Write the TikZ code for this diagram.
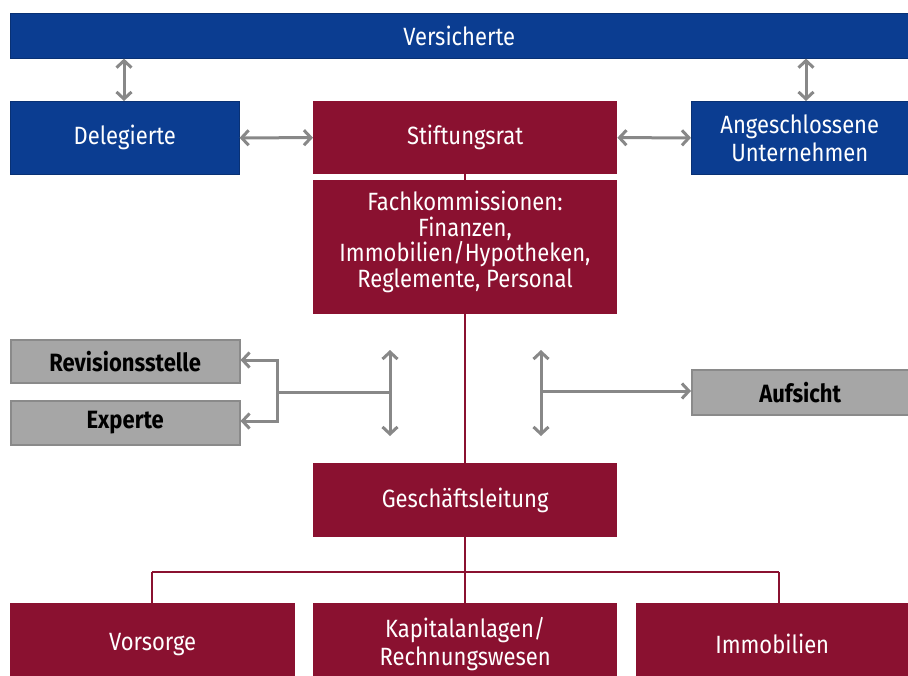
\documentclass[tikz,border=0pt]{standalone}
\usepackage{fontspec}
\setmainfont{Fira Sans}[FakeStretch=0.88]
\usetikzlibrary{arrows.meta}
\definecolor{vblue}{HTML}{0B3D91}
\definecolor{vred}{HTML}{8A1130}
\definecolor{gfill}{HTML}{A6A6A6}
\definecolor{gline}{HTML}{8A8A8A}
\definecolor{garrow}{HTML}{888888}
\tikzset{
  bluebox/.style={draw=vblue!80!black, line width=0.6pt, fill=vblue, text=white, inner sep=0pt, align=center, font=\fontsize{25}{28}\selectfont},
  redbox/.style={fill=vred, text=white, inner sep=0pt, align=center, font=\fontsize{25}{28}\selectfont},
  whitetext/.style={text=white, inner sep=0pt, align=center, font=\fontsize{25}{25.7}\selectfont},
  greybox/.style={draw=gline, line width=1.5pt, fill=gfill, text=black, inner sep=0pt, align=center, font=\fontsize{25}{28}\selectfont\bfseries},
  garr/.style={draw=garrow, line width=3pt, {Straight Barb[length=7pt,width=15pt,line width=3pt]}-{Straight Barb[length=7pt,width=15pt,line width=3pt]}},
  garrend/.style={draw=garrow, line width=3pt, -{Straight Barb[length=7pt,width=15pt,line width=3pt]}},
  gline/.style={draw=garrow, line width=3pt},
  rline/.style={draw=vred, line width=2.5pt},
}
\begin{document}
\begin{tikzpicture}[x=1pt,y=-1pt]
\useasboundingbox (0,0) rectangle (908,675);
% boxes
\node[bluebox, minimum width=898pt, minimum height=45pt, anchor=north west] (vers) at (10,13) {Versicherte};
\node[bluebox, minimum width=229pt, minimum height=73pt, anchor=north west] (del) at (10,101) {Delegierte};
\node[redbox, minimum width=304pt, minimum height=73pt, anchor=north west] (str) at (313,101) {Stiftungsrat};
\node[bluebox, minimum width=217pt, minimum height=73pt, anchor=north west] (ang) at (691,101) {Angeschlossene\\Unternehmen};
\node[redbox, minimum width=304pt, minimum height=134pt, anchor=north west] (fach) at (313,180) {};
\node[whitetext] (fachtxt) at (465,242) {Fachkommissionen:\\Finanzen,\\Immobilien/Hypotheken,\\Reglemente, Personal};
\node[greybox, minimum width=229pt, minimum height=43pt, anchor=north west] (rev) at (10,339) {Revisionsstelle};
\node[greybox, minimum width=229pt, minimum height=44pt, anchor=north west] (exp) at (10,400) {Experte};
\node[greybox, minimum width=217pt, minimum height=45pt, anchor=north west] (auf) at (691,369) {Aufsicht};
\node[redbox, minimum width=304pt, minimum height=74pt, anchor=north west] (gl) at (313,463) {Geschäftsleitung};
\node[redbox, minimum width=285pt, minimum height=82pt, anchor=north west] (vor) at (10,603) {Vorsorge};
\node[redbox, minimum width=304pt, minimum height=82pt, anchor=north west] (kap) at (313,603) {Kapitalanlagen/\\Rechnungswesen};
\node[redbox, minimum width=272pt, minimum height=82pt, anchor=north west] (imm) at (636,603) {Immobilien};
% coordinates
\coordinate (la1) at (390,350);
\coordinate (la2) at (390,436);
\coordinate (lj) at (390,392);
\coordinate (lk) at (277,392);
\coordinate (lt) at (277,360);
\coordinate (lb) at (277,421);
\coordinate (ra1) at (541,350);
\coordinate (ra2) at (541,436);
\coordinate (rj) at (541,391);
\coordinate (busl) at (152,572);
\coordinate (busr) at (779,572);
% red lines
\draw[rline] (str.south) -- (fach.north);
\draw[rline] (fach.south) -- (gl.north);
\draw[rline] (gl.south) -- (kap.north);
\draw[rline] (busl) -- (busr);
\draw[rline] (busl) -- (busl |- vor.north);
\draw[rline] (busr) -- (busr |- imm.north);
% grey arrows
\draw[garr] (vers.south -| 124,0) -- (del.north -| 124,0);
\draw[garr] (vers.south -| 806,0) -- (ang.north -| 806,0);
\draw[garr] (del.east) -- (str.west);
\draw[garr] (str.east) -- (ang.west);
\draw[garr] (la1) -- (la2);
\draw[gline] (lj) -- (lk);
\draw[garrend] (lt |- lk) -- (lt) -- (rev.east |- lt);
\draw[garrend] (lb |- lk) -- (lb) -- (exp.east |- lb);
\draw[garr] (ra1) -- (ra2);
\draw[garrend] (rj) -- (auf.west |- rj);
\end{tikzpicture}
\end{document}
